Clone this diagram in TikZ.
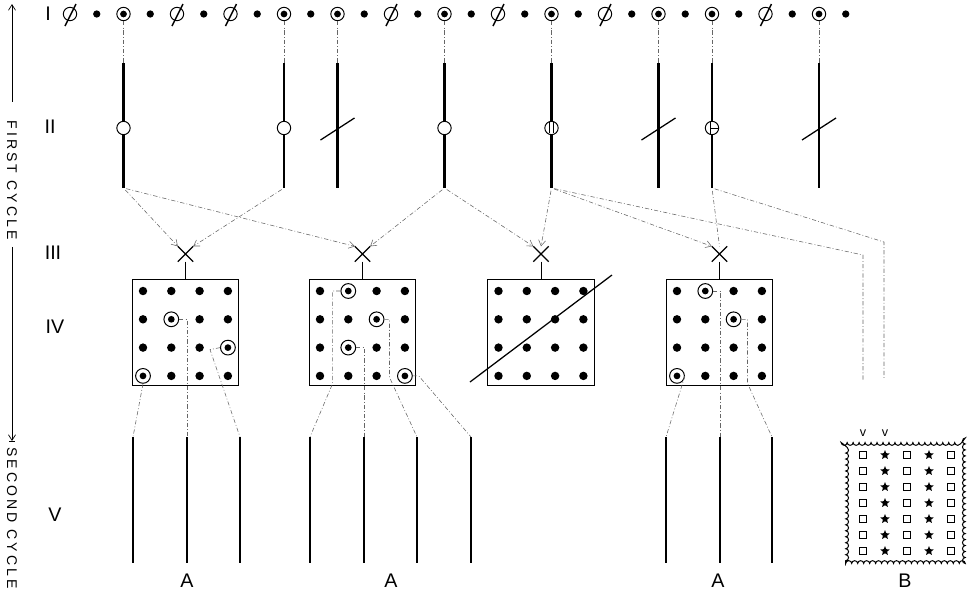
\documentclass[tikz,border=0pt]{standalone}
\usepackage{fontspec}
\setmainfont{Liberation Sans}
\newfontfamily\axisfont[LetterSpace=22]{Liberation Sans}
\usetikzlibrary{arrows.meta, shapes.geometric, shapes.misc, decorations.pathmorphing}

\begin{document}
\begin{tikzpicture}[x=0.025cm, y=-0.025cm, >={Straight Barb[length=4pt,width=5pt]},
  dot/.style={circle, fill=black, inner sep=0pt, minimum size=5.2pt},
  hollow/.style={circle, draw, line width=0.7pt, fill=white, inner sep=0pt, minimum size=9.5pt},
  ring/.style={hollow, path picture={\fill[black] (path picture bounding box.center) circle (2.4pt);}},
  strand/.style={line width=1.6pt},
  link/.style={black!60, line width=0.4pt, dash pattern=on 3pt off 1.5pt on 0.6pt off 1.5pt},
  chiasma/.style={cross out, draw, line width=0.9pt, inner sep=0pt, minimum size=10pt},
  tetrad/.style={draw, line width=0.6pt, minimum size=75.8pt, inner sep=0pt},
  label/.style={font=\fontsize{14}{16}\selectfont},
  cell/.style={draw, line width=0.6pt, inner sep=0pt, minimum size=5.5pt},
  spot/.style={star, star points=5, star point ratio=2.2, fill=black, inner sep=0pt, minimum size=7pt}]
  \useasboundingbox (0,0) rectangle (976,595);

  % row I
  \foreach \k in {1,3,...,29} \node[dot] (s\k) at ({70+26.75*\k},14) {};
  \foreach \k in {2,8,10,14,18,22,24,28} \node[ring] (s\k) at ({70+26.75*\k},14) {};
  \foreach \k in {0,4,6,12,16,20,26} {
    \node[hollow] (s\k) at ({70+26.75*\k},14) {};
    \draw[line width=1pt] (s\k.center) ++(-5,12) -- ++(11,-22);
  }

  % row II
  \coordinate (midrow) at (0,128);
  \foreach \n/\k in {1/2,2/8,3/10,4/14,5/18,6/22,7/24,8/28} {
    \coordinate (l\n-t) at ({70+26.75*\k},63);
    \coordinate (l\n-b) at ({70+26.75*\k},188);
    \draw[strand] (l\n-t) -- (l\n-b);
    \draw[link] (s\k) -- (l\n-t);
  }
  \foreach \n in {1,2,4} \node[hollow] (m\n) at (l\n-t |- midrow) {};
  \foreach \n in {3,6,8} {
    \coordinate (m\n) at (l\n-t |- midrow);
    \draw[line width=0.9pt] (m\n) ++(-17,12) -- ++(34,-22);
  }
  \node[hollow] (m5) at (l5-t |- midrow) {};
  \draw[line width=0.5pt] (m5.north) ++(-1.8,1) -- ++(0,11);
  \draw[line width=0.5pt] (m5.north) ++(1.8,1) -- ++(0,11);
  \node[hollow] (m7) at (l7-t |- midrow) {};
  \draw[line width=0.5pt] (m7.north) ++(-1.5,0) -- ++(0,13);
  \draw[line width=0.5pt] (m7.center) ++(-1.5,0) -- (m7.east);

  % rows III and IV
  \foreach \n/\x in {1/185.5,2/362.5,3/541,4/719.5} {
    \node[chiasma] (x\n) at (\x,254) {};
    \node[tetrad] (b\n) at (\x,332.5) {};
    \draw[line width=0.5pt] (x\n.south) -- (b\n.north);
    \foreach \i in {0,...,3} \foreach \j in {0,...,3}
      \node[dot, minimum size=6pt] (b\n-\i\j) at ({\x-42.5+28.3*\i},{291+28.3*\j}) {};
  }
  \foreach \d in {b1-11,b1-32,b1-03,b2-10,b2-21,b2-12,b2-33,b4-10,b4-21,b4-03}
    \node[ring, minimum size=10.5pt] (o\d) at (\d) {};
  \coordinate (cut1) at (470,382);
  \coordinate (cut2) at (612,275);
  \draw[line width=0.9pt] (cut1) -- (cut2);

  \draw[link,->,shorten <=2pt] (l1-b) -- (x1.north west);
  \draw[link,->,shorten <=2pt] (l2-b) -- (x1.north east);
  \draw[link,->,shorten <=2pt] (l1-b) -- (x2.north west);
  \draw[link,->,shorten <=2pt] (l4-b) -- (x2.north east);
  \draw[link,->,shorten <=2pt] (l4-b) -- (x3.north west);
  \draw[link,->,shorten <=2pt] (l5-b) -- (x3.north);
  \draw[link,->,shorten <=2pt] (l5-b) -- (x4.north west);
  \draw[link,shorten <=2pt] (l7-b) -- (x4.north);
  \coordinate (rend) at (0,380);
  \coordinate (r1) at (863,255);
  \coordinate (r2) at (884,242);
  \draw[link,shorten <=2pt] (l5-b) -- (r1) -- (r1 |- rend);
  \draw[link,shorten <=2pt] (l7-b) -- (r2) -- (r2 |- rend);

  % row V
  \foreach \n/\x in {1/133,2/187,3/240,4/310,5/364,6/417,7/471,8/666,9/720,10/772} {
    \coordinate (v\n) at (\x,437);
    \draw[strand] (v\n) -- ++(0,126);
  }
  \draw[link] (ob1-03.south) -- (v1);
  \draw[link] (ob1-11.east) -| (v2);
  \draw[link] (ob1-32.west) -- ++(-10,2) -- (v3);
  \draw[link] (ob2-10.west) -- ++(-8,0) -- ++(0,93) -- (v4);
  \draw[link] (ob2-12.east) -| (v5);
  \draw[link] (ob2-21.east) -- ++(5,0) -- ++(0,58) -- (v6);
  \draw[link] (ob2-33.east) -- ++(6,0) -- (v7);
  \draw[link] (ob4-03.east) -- (v8);
  \draw[link] (ob4-10.east) -| (v9);
  \draw[link] (ob4-21.east) -- ++(6,0) -- ++(0,64) -- (v10);

  \node[label] (asc1) at (187,581) {A};
  \node[label] (asc2) at (391,581) {A};
  \node[label] (asc3) at (718,581) {A};

  % B
  \node[draw, line width=0.7pt, minimum width=85pt, minimum height=86pt, decorate,
    decoration={bumps, amplitude=2pt, segment length=8.5pt}] (tray) at (905.5,503) {};
  \foreach \j in {0,...,6} {
    \foreach \i in {0,2,4} \node[cell] (c\i\j) at ({863+22*\i},{455+16*\j}) {};
    \foreach \i in {1,3} \node[spot] (c\i\j) at ({863+22*\i},{455+16*\j}) {};
  }
  \node[font=\fontsize{9}{9}\selectfont] (va) at (863,433) {v};
  \node[font=\fontsize{9}{9}\selectfont] (vb) at (885,433) {v};
  \node[label] (tb) at (905,581) {B};

  \node[label] (lab1) at (48,14) {I};
  \node[label] (lab2) at (50,127) {II};
  \node[label] (lab3) at (53,253) {III};
  \node[label] (lab4) at (55,327) {IV};
  \node[label] (lab5) at (55,515) {V};

  % cycles
  \coordinate (ax-top) at (12,4);
  \coordinate (ax-bot) at (12,441);
  \node[rotate=-90, inner sep=1pt, font=\axisfont\fontsize{10}{12}\selectfont] (first) at (12,180) {FIRST CYCLE};
  \node[rotate=-90, inner sep=1pt, font=\axisfont\fontsize{10}{12}\selectfont] (second) at (12,518) {SECOND CYCLE};
  \draw[line width=0.5pt,->,shorten <=12pt] (first.west) -- (ax-top);
  \draw[line width=0.5pt,->,shorten <=4pt] (first.east) -- (ax-bot);
  \draw[line width=0.5pt] (ax-bot) ++(-3,0) -- ++(6,0);
\end{tikzpicture}
\end{document}
